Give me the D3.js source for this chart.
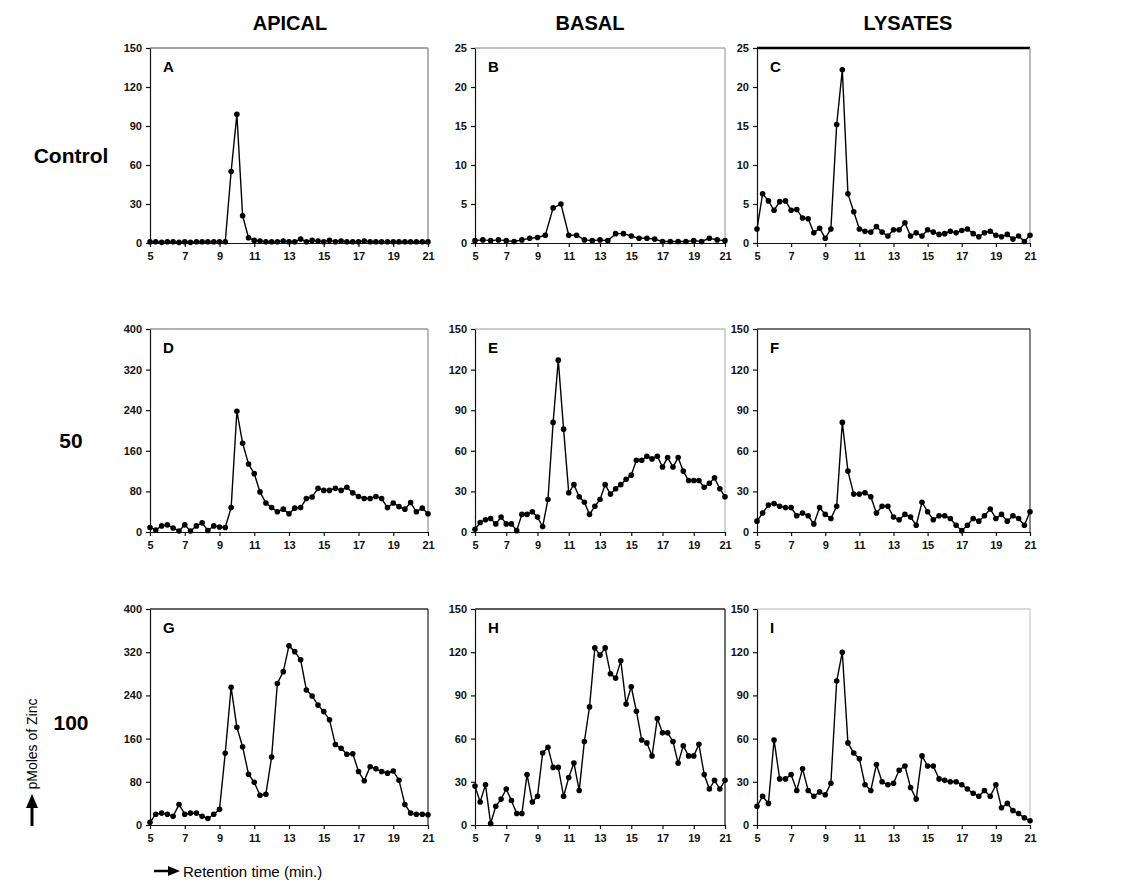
<!doctype html>
<html>
<head>
<meta charset="utf-8">
<script src="https://d3js.org/d3.v7.min.js"></script>
<style>
    body { margin: 0; background: #fff; }
    text { font-family: "Liberation Sans", Arial, sans-serif; }
    .tick text { font-size: 11px; font-weight: bold; fill: #111; }
    .tick line, .domain { stroke: #111; stroke-width: 1.2px; }
</style>
</head>
<body>
<svg width="1138" height="888"></svg>
<script>

// sampling times (min)
var t3 = [5, 5.33, 5.67, 6, 6.33, 6.67, 7, 7.33, 7.67, 8, 8.33, 8.67, 9, 9.33, 9.67, 10, 10.33, 10.67,
          11, 11.33, 11.67, 12, 12.33, 12.67, 13, 13.33, 13.67, 14, 14.33, 14.67, 15, 15.33, 15.67, 16,
          16.33, 16.67, 17, 17.33, 17.67, 18, 18.33, 18.67, 19, 19.33, 19.67, 20, 20.33, 20.67, 21];
var t2 = [5, 5.5, 6, 6.5, 7, 7.5, 8, 8.5, 9, 9.5, 10, 10.5, 11, 11.5, 12, 12.5, 13, 13.5, 14, 14.5,
          15, 15.5, 16, 16.5, 17, 17.5, 18, 18.5, 19, 19.5, 20, 20.5, 21];

var xTicks = [5, 7, 9, 11, 13, 15, 17, 19, 21];
var yTicks150 = [0, 30, 60, 90, 120, 150];
var yTicks25 = [0, 5, 10, 15, 20, 25];
var yTicks400 = [0, 80, 160, 240, 320, 400];

var columns = ["APICAL", "BASAL", "LYSATES"];
var rows = ["Control", "50", "100"];

// pmol zinc
var apicalControl = [1,1,0.5,1,1,0.5,1,0.5,1,1,1,1,1,1,55,99,21,4,2,1.5,1,1,1,1.5,1,1,3,1,2,1.5,1,2,1,1.5,1,1,1,1.5,1,1,1,1,1,1,1,1,1,1,1];
var basalControl = [0.3,0.4,0.3,0.4,0.3,0.2,0.4,0.6,0.7,1.0,4.5,5.0,1.0,1.0,0.4,0.3,0.4,0.3,1.2,1.2,0.9,0.6,0.6,0.5,0.2,0.2,0.2,0.2,0.3,0.2,0.6,0.4,0.3];
var lysatesControl = [1.8,6.3,5.4,4.2,5.3,5.4,4.2,4.3,3.2,3.1,1.3,1.9,0.6,1.8,15.2,22.2,6.3,4.0,1.8,1.5,1.4,2.1,1.4,0.9,1.7,1.7,2.6,0.9,1.3,0.9,1.7,1.4,1.1,1.2,1.5,1.3,1.6,1.8,1.2,0.8,1.3,1.5,1.0,0.8,1.1,0.5,0.9,0.2,1.0];
var apical50 = [9,4,12,14,8,2,14,2,12,18,3,12,10,9,48,238,175,134,115,79,57,48,40,45,36,47,48,66,69,86,82,82,86,82,88,77,70,66,66,70,66,48,57,50,45,58,40,47,36];
var basal50 = [2,7,9,10,6,11,6,6,1,13,13,15,11,4,24,81,127,76,29,35,26,22,13,19,24,35,28,32,35,39,42,53,53,56,54,56,48,55,48,55,45,38,38,38,33,36,40,32,26];
var lysates50 = [8,14,20,21,19,18,18,12,14,12,6,18,13,10,19,81,45,28,28,29,26,14,19,19,11,9,13,11,5,22,15,9,12,12,10,5,1,5,10,8,12,17,10,13,8,12,10,5,15];
var apical100 = [5,20,22,20,16,38,20,22,22,16,12,20,29,133,255,181,145,94,79,55,57,126,262,284,332,321,306,250,239,222,210,195,149,142,131,132,99,82,108,104,99,96,100,83,38,22,20,20,19];
var basal100 = [27,16,28,1,13,18,25,17,8,8,35,16,20,50,54,40,40,20,33,43,24,58,82,123,118,123,105,102,114,84,96,79,59,57,48,74,64,64,58,43,55,48,48,56,35,25,31,25,31];
var lysates100 = [13,20,15,59,32,32,35,24,39,24,20,23,21,29,100,120,57,50,46,28,24,42,30,28,29,38,41,26,18,48,41,41,32,31,30,30,28,25,22,20,24,20,28,12,15,10,8,5,3];

var panels = [
    {id: "A", row: 0, col: 0, t: t3, v: apicalControl, ticks: yTicks150, frame: "#888"},
    {id: "B", row: 0, col: 1, t: t2, v: basalControl, ticks: yTicks25, frame: "#aaa"},
    {id: "C", row: 0, col: 2, t: t3, v: lysatesControl, ticks: yTicks25, frame: "#000"},
    {id: "D", row: 1, col: 0, t: t3, v: apical50, ticks: yTicks400, frame: "#999"},
    {id: "E", row: 1, col: 1, t: t3, v: basal50, ticks: yTicks150, frame: "#bbb"},
    {id: "F", row: 1, col: 2, t: t3, v: lysates50, ticks: yTicks150, frame: "#444"},
    {id: "G", row: 2, col: 0, t: t3, v: apical100, ticks: yTicks400, frame: "#333"},
    {id: "H", row: 2, col: 1, t: t3, v: basal100, ticks: yTicks150, frame: "#222"},
    {id: "I", row: 2, col: 2, t: t3, v: lysates100, ticks: yTicks150, frame: "#ccc"}
];

var colX = [[150, 428], [475, 725], [757, 1030]];
var rowY = [[48, 243], [329, 532], [609, 825]];

var svg = d3.select("svg");
svg.append("rect").attr("width", 1138).attr("height", 888).attr("fill", "#fff");

// column headers
var colCenters = [290, 590, 908];
columns.forEach(function(c, i) {
    svg.append("text")
       .attr("x", colCenters[i]).attr("y", 30)
       .attr("text-anchor", "middle")
       .attr("font-size", "20px").attr("font-weight", "bold")
       .text(c);
});

// row labels
var rowLabelY = [163, 448, 730];
rows.forEach(function(r, i) {
    svg.append("text")
       .attr("x", 71).attr("y", rowLabelY[i])
       .attr("text-anchor", "middle")
       .attr("font-size", "21px").attr("font-weight", "bold")
       .text(r);
});

panels.forEach(function(p) {
    var x0 = colX[p.col][0], x1 = colX[p.col][1];
    var y0 = rowY[p.row][0], y1 = rowY[p.row][1];

    var x = d3.scaleLinear().domain([5, 21]).range([x0, x1]);
    var y = d3.scaleLinear().domain([0, p.ticks[p.ticks.length - 1]]).range([y1, y0]);

    var g = svg.append("g");

    // frame top / right
    g.append("line")
     .attr("x1", x0).attr("x2", x1).attr("y1", y0).attr("y2", y0)
     .attr("stroke", p.frame)
     .attr("stroke-width", p.id == "C" ? 2.5 : 1.3);
    g.append("line")
     .attr("x1", x1).attr("x2", x1).attr("y1", y0).attr("y2", y1)
     .attr("stroke", p.id == "C" ? "#999" : p.frame)
     .attr("stroke-width", 1.3);

    g.append("g")
     .attr("transform", "translate(0," + y1 + ")")
     .call(d3.axisBottom(x).tickValues(xTicks).tickSize(4).tickSizeOuter(0).tickPadding(5));

    g.append("g")
     .attr("transform", "translate(" + x0 + ",0)")
     .call(d3.axisLeft(y).tickValues(p.ticks).tickSize(4).tickSizeOuter(0).tickPadding(4));

    var pts = p.t.map(function(t, i) { return [t, p.v[i]]; });

    g.append("path")
     .datum(pts)
     .attr("fill", "none")
     .attr("stroke", "#000")
     .attr("stroke-width", 1.4)
     .attr("d", d3.line()
        .x(function(d) { return x(d[0]); })
        .y(function(d) { return y(d[1]); }));

    g.selectAll(".dot")
     .data(pts)
     .enter().append("circle")
     .attr("cx", function(d) { return x(d[0]); })
     .attr("cy", function(d) { return y(d[1]); })
     .attr("r", 2.8)
     .attr("fill", "#000");

    g.append("text")
     .attr("x", x0 + 13).attr("y", y0 + 24)
     .attr("font-size", "15px").attr("font-weight", "bold")
     .text(p.id);
});

// y axis title with arrow
svg.append("text")
   .attr("transform", "translate(37,744) rotate(-90)")
   .attr("text-anchor", "middle")
   .attr("font-size", "14px")
   .text("pMoles of Zinc");
svg.append("line")
   .attr("x1", 32).attr("x2", 32).attr("y1", 826).attr("y2", 806)
   .attr("stroke", "#000").attr("stroke-width", 3);
svg.append("path")
   .attr("d", "M26,808 L32,794 L38,808 Z")
   .attr("fill", "#000");

// x axis title with arrow
svg.append("line")
   .attr("x1", 154).attr("x2", 172).attr("y1", 871).attr("y2", 871)
   .attr("stroke", "#000").attr("stroke-width", 2.5);
svg.append("path")
   .attr("d", "M168,866 L180,871 L168,876 Z")
   .attr("fill", "#000");
svg.append("text")
   .attr("x", 183).attr("y", 877)
   .attr("font-size", "15px")
   .text("Retention time (min.)");

</script>
</body>
</html>
